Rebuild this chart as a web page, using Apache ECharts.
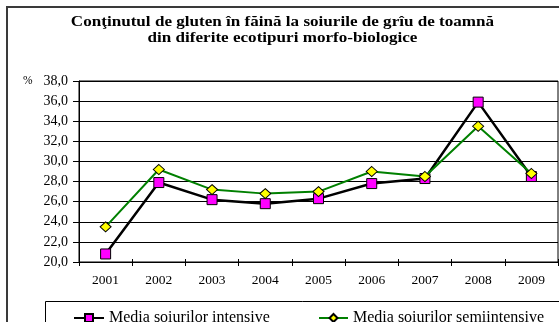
<!DOCTYPE html>
<html>
<head>
<meta charset="utf-8">
<script src="https://cdn.jsdelivr.net/npm/echarts@6/dist/echarts.min.js"></script>
<style>
  html, body { margin: 0; padding: 0; background: #fff; }
  #chart { width: 559px; height: 322px; }
</style>
</head>
<body>
<div id="chart"></div>
<script>
// Gluten content (%) in flour, winter wheat varieties, 2001-2009
var years = ['2001', '2002', '2003', '2004', '2005', '2006', '2007', '2008', '2009'];
var intensive = [20.8, 27.9, 26.2, 25.8, 26.3, 27.8, 28.3, 35.9, 28.5];
var semiintensive = [23.5, 29.2, 27.2, 26.8, 27.0, 29.0, 28.5, 33.5, 28.8];
var seriesNames = ['Media soiurilor intensive', 'Media soiurilor semiintensive'];
var titleLines = ['Conţinutul de gluten în făină la soiurile de grîu de toamnă',
                  'din diferite ecotipuri morfo-biologice'];

var serif = '"Liberation Serif", "DejaVu Serif", serif';
var chart = echarts.init(document.getElementById('chart'), null, { renderer: 'canvas' });

var plotTop = 81, plotBottom = 60;
var plotHeight = 322 - plotTop - plotBottom;

chart.setOption({
  animation: false,
  backgroundColor: '#fff',
  grid: {
    left: 79, right: 1, top: plotTop, bottom: plotBottom,
    show: true, borderColor: '#000', borderWidth: 1
  },
  xAxis: [
    {
      type: 'category',
      data: years,
      boundaryGap: true,
      axisLine: { lineStyle: { color: '#000', width: 1 } },
      axisTick: { show: true, length: 4, lineStyle: { color: '#000' } },
      axisLabel: { color: '#000', fontFamily: serif, fontSize: 13.5, margin: 11 },
      splitLine: { show: false }
    },
    {
      // short upward ticks so the category ticks cross the baseline
      type: 'category',
      data: years,
      position: 'top',
      offset: -plotHeight,
      boundaryGap: true,
      axisLine: { show: false },
      axisTick: { show: true, length: 3, lineStyle: { color: '#000' } },
      axisLabel: { show: false },
      splitLine: { show: false }
    }
  ],
  yAxis: {
    type: 'value',
    min: 20, max: 38, interval: 2,
    axisLine: { show: true, lineStyle: { color: '#000', width: 1 } },
    axisTick: { show: true, length: 6, lineStyle: { color: '#000' } },
    axisLabel: {
      color: '#000', fontFamily: serif, fontSize: 14, margin: 11,
      formatter: function (v) { return v.toFixed(1).replace('.', ','); }
    },
    splitLine: { show: true, lineStyle: { color: '#000', width: 1 } }
  },
  legend: [
    {
      data: [seriesNames[0]], left: 68, top: 305,
      itemWidth: 30, itemHeight: 10, itemGap: 5,
      textStyle: { color: '#000', fontFamily: serif, fontSize: 16 }
    },
    {
      data: [seriesNames[1]], left: 313, top: 305,
      itemWidth: 29, itemHeight: 10, itemGap: 4,
      textStyle: { color: '#000', fontFamily: serif, fontSize: 16 }
    }
  ],
  graphic: [
    {
      type: 'rect', silent: true, z: -1,
      shape: { x: 7, y: 7, width: 620, height: 400 },
      style: { fill: 'none', stroke: '#3a3a3a', lineWidth: 2 }
    },
    {
      type: 'rect', silent: true,
      shape: { x: 45.5, y: 301.5, width: 600, height: 60 },
      style: { fill: 'none', stroke: '#000', lineWidth: 1 }
    },
    {
      // two-line chart title, slightly widened
      type: 'text', silent: true,
      x: 282.5, y: 30.5, scaleX: 1.22,
      style: {
        text: titleLines.join('\n'),
        align: 'center', verticalAlign: 'middle',
        font: 'bold 14px ' + serif, lineHeight: 16, fill: '#000'
      }
    },
    {
      type: 'text', silent: true,
      x: 23, y: 81,
      style: {
        text: '%', align: 'left', verticalAlign: 'middle',
        font: '11.5px ' + serif, fill: '#000'
      }
    }
  ],
  series: [
    {
      name: seriesNames[0], type: 'line', data: intensive, xAxisIndex: 0,
      symbol: 'rect', symbolSize: 10,
      lineStyle: { color: '#000', width: 2.5 },
      itemStyle: { color: '#ff00ff', borderColor: '#000', borderWidth: 1 },
      z: 2
    },
    {
      name: seriesNames[1], type: 'line', data: semiintensive, xAxisIndex: 0,
      symbol: 'diamond', symbolSize: [11, 10],
      lineStyle: { color: '#008000', width: 2 },
      itemStyle: { color: '#ffff00', borderColor: '#000', borderWidth: 1 },
      z: 3
    }
  ]
});
</script>
</body>
</html>
